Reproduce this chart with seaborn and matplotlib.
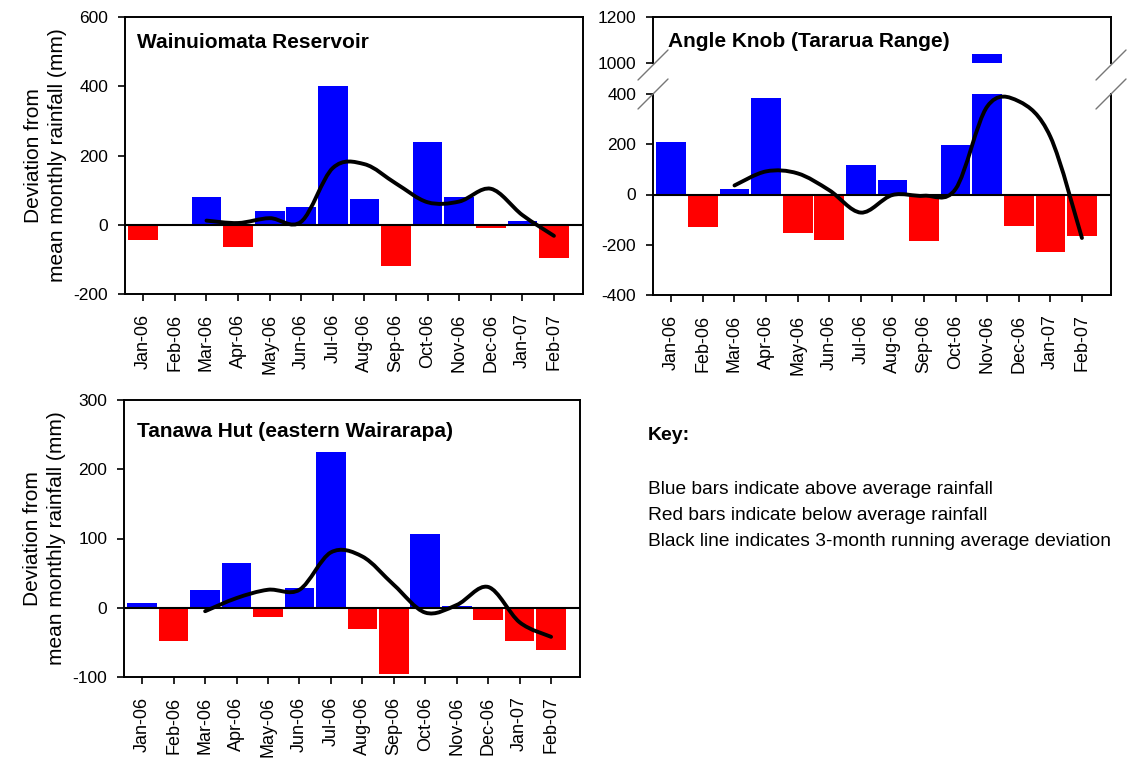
"""Monthly rainfall deviation panels (Wainuiomata, Angle Knob, Tanawa Hut) — seaborn barplots
with a smoothed 3-month running average line and a broken y-axis for Angle Knob.
"""
import matplotlib
matplotlib.use("Agg")
import matplotlib.pyplot as plt
from matplotlib.path import Path
from matplotlib.patches import PathPatch
from matplotlib.lines import Line2D
import pandas as pd
import seaborn as sns

sns.set_style("ticks")
plt.rcParams["font.family"] = ["Liberation Sans", "DejaVu Sans"]
plt.rcParams["axes.unicode_minus"] = False
plt.rcParams["axes.linewidth"] = 1.4
plt.rcParams["axes.edgecolor"] = "black"
for k in ("text.color", "axes.labelcolor", "xtick.color", "ytick.color"):
    plt.rcParams[k] = "black"

BLUE, RED = "#0000ff", "#ff0000"
PAL = {"above": BLUE, "below": RED}

months = ["Jan-06", "Feb-06", "Mar-06", "Apr-06", "May-06", "Jun-06", "Jul-06",
          "Aug-06", "Sep-06", "Oct-06", "Nov-06", "Dec-06", "Jan-07", "Feb-07"]
avg_start = 2  # running average starts at Mar-06

wain_dev = [-43, 0, 80, -64, 41, 51, 400, 75, -118, 238, 81, -8, 10, -97]
wain_avg = [12, 5, 19, 9, 164, 175, 119, 65, 67, 104, 28, -32]

angle_dev = [210, -129, 23, 383, -153, -180, 117, 56, -187, 197, 1040, -124, -227, -167]
angle_avg = [36, 92, 84, 17, -72, -2, -5, 22, 350, 371, 230, -173]

tanawa_dev = [7, -48, 26, 64, -13, 28, 225, -30, -96, 106, 2, -18, -48, -61]
tanawa_avg = [-5, 14, 26, 26, 80, 74, 33, -7, 4, 30, -21, -42]

YLABEL = "Deviation from\nmean monthly rainfall (mm)"
W, H = 1135, 764
XLIM = (-0.58, 13.92)


def px_axes(left, top, right, bottom):
    return [left / W, 1 - bottom / H, (right - left) / W, (bottom - top) / H]


def draw_bars(ax, dev):
    df = pd.DataFrame({"month": months, "dev": dev,
                       "sign": ["above" if v >= 0 else "below" for v in dev]})
    sns.barplot(data=df, x="month", y="dev", hue="sign", palette=PAL, order=months,
                hue_order=["above", "below"], dodge=False, width=0.94, saturation=1,
                errorbar=None, legend=False, linewidth=0, ax=ax)
    ax.axhline(0, color="black", lw=1.5, zorder=3)
    ax.set_xlim(*XLIM)
    ax.set_xlabel("")
    ax.set_ylabel("")


def smooth_line(ax, avg):
    # smoothed line through the monthly running-average points (like a spreadsheet "smoothed line")
    pts = [(avg_start + i, v) for i, v in enumerate(avg)]
    verts, codes = [pts[0]], [Path.MOVETO]
    n = len(pts)
    for i in range(n - 1):
        p0, p1, p2, p3 = pts[max(i - 1, 0)], pts[i], pts[i + 1], pts[min(i + 2, n - 1)]
        c1 = (p1[0] + (p2[0] - p0[0]) / 6, p1[1] + (p2[1] - p0[1]) / 6)
        c2 = (p2[0] - (p3[0] - p1[0]) / 6, p2[1] - (p3[1] - p1[1]) / 6)
        verts += [c1, c2, p2]
        codes += [Path.CURVE4] * 3
    ax.add_patch(PathPatch(Path(verts, codes), fill=False, ec="black", lw=2.8,
                           capstyle="round", joinstyle="round", zorder=4))


def style(ax, xlabels=True):
    ax.tick_params(axis="y", length=5, width=1.2, pad=7, labelsize=12.5)
    ax.tick_params(axis="x", length=5, width=1.2, pad=9, labelsize=13)
    if xlabels:
        ax.set_xticks(range(len(months)))
        ax.set_xticklabels(months, rotation=90)
    for s in ax.spines.values():
        s.set_visible(True)


fig = plt.figure(figsize=(W / 100, H / 100), dpi=100)

# Wainuiomata Reservoir
ax1 = fig.add_axes(px_axes(125, 17, 583, 294))
draw_bars(ax1, wain_dev)
smooth_line(ax1, wain_avg)
ax1.set_ylim(-200, 600)
ax1.set_yticks([-200, 0, 200, 400, 600])
style(ax1)
ax1.set_ylabel(YLABEL, fontsize=15, labelpad=5, linespacing=1.3)
ax1.text(0.026, 0.888, "Wainuiomata Reservoir", transform=ax1.transAxes,
         fontsize=15, fontweight="bold", va="baseline")

# Angle Knob, broken y-axis
ax2t = fig.add_axes(px_axes(653, 17, 1111, 63))
ax2 = fig.add_axes(px_axes(653, 94, 1111, 295))
for a in (ax2t, ax2):
    draw_bars(a, angle_dev)
smooth_line(ax2, angle_avg)
ax2t.set_ylim(1000, 1200)
ax2t.set_yticks([1000, 1200])
ax2.set_ylim(-400, 400)
ax2.set_yticks([-400, -200, 0, 200, 400])
style(ax2t, xlabels=False)
style(ax2)
ax2t.tick_params(axis="x", bottom=False, labelbottom=False)
ax2t.spines["bottom"].set_visible(False)
ax2.spines["top"].set_visible(False)
ax2t.text(0.033, 0.35, "Angle Knob (Tararua Range)", transform=ax2t.transAxes,
          fontsize=15, fontweight="bold", va="baseline")
for xc in (653, 1111):
    for yc in (65, 94):
        fig.add_artist(Line2D([(xc - 15) / W, (xc + 15) / W],
                              [1 - (yc + 15) / H, 1 - (yc - 15) / H],
                              color="#777777", lw=1.0))

# Tanawa Hut
ax3 = fig.add_axes(px_axes(124, 400, 580, 677))
draw_bars(ax3, tanawa_dev)
smooth_line(ax3, tanawa_avg)
ax3.set_ylim(-100, 300)
ax3.set_yticks([-100, 0, 100, 200, 300])
style(ax3)
ax3.set_ylabel(YLABEL, fontsize=15, labelpad=5, linespacing=1.3)
ax3.text(0.028, 0.866, "Tanawa Hut (eastern Wairarapa)", transform=ax3.transAxes,
         fontsize=15, fontweight="bold", va="baseline")

# key
fig.text(648 / W, 1 - 436 / H, "Key:", fontsize=14, fontweight="bold", va="center")
key_lines = ["Blue bars indicate above average rainfall",
             "Red bars indicate below average rainfall",
             "Black line indicates 3-month running average deviation"]
for yy, t in zip([489, 515, 541], key_lines):
    fig.text(648 / W, 1 - yy / H, t, fontsize=13.8, va="center")

fig.savefig("out.png", dpi=100)
plt.close(fig)
